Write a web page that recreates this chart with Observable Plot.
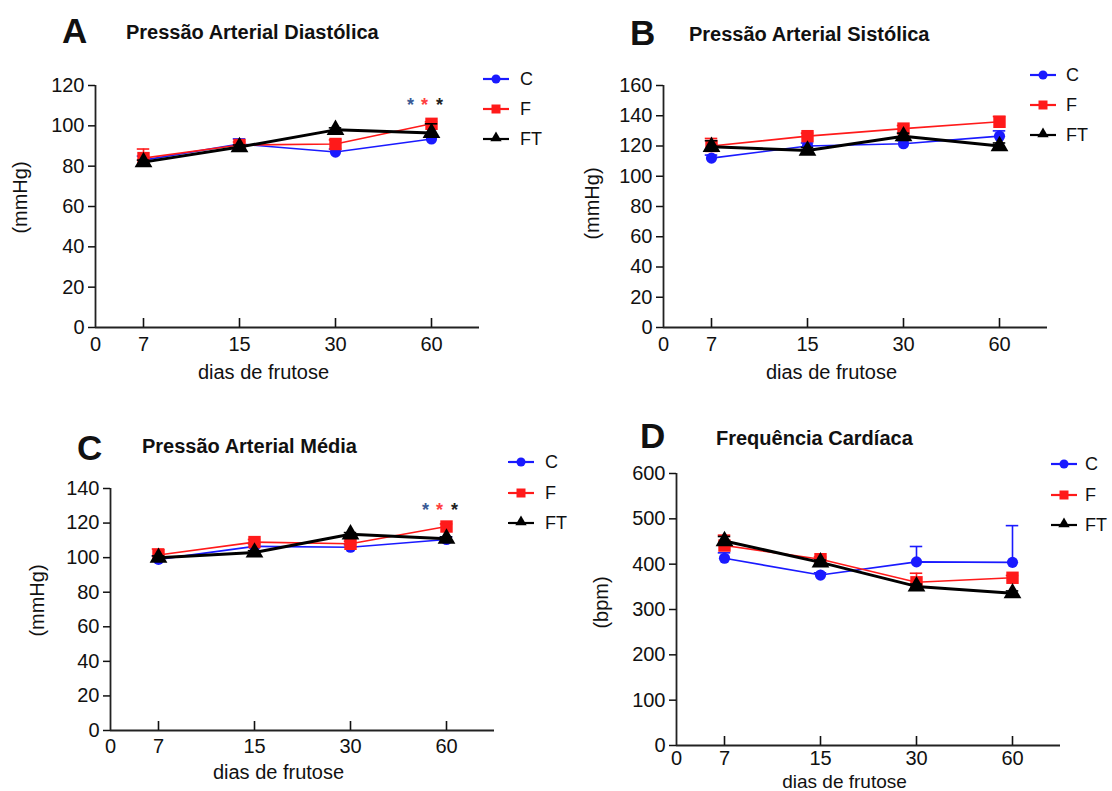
<!DOCTYPE html>
<html>
<head>
<meta charset="utf-8">
<script src="https://cdn.jsdelivr.net/npm/d3@7"></script>
<script src="https://cdn.jsdelivr.net/npm/@observablehq/plot@0.6"></script>
<style>
  body { margin: 0; background: #fff; font-family: "Liberation Sans", Arial, sans-serif; color: #111; }
  #root { position: relative; width: 1112px; height: 791px; overflow: hidden; background: #fff; }
  .panel { position: absolute; }
  .letter { position: absolute; font-weight: bold; font-size: 35px; line-height: 1; white-space: nowrap; }
  .title { position: absolute; font-weight: bold; font-size: 20px; line-height: 1; white-space: nowrap; }
  .legsym { position: absolute; }
  .legtxt { position: absolute; font-size: 18px; line-height: 18px; white-space: nowrap; }
</style>
</head>
<body>
<div id="root"></div>
<script>
// ---------- data ----------
const days = [7, 15, 30, 60];
const xTickLabels = ["0", "7", "15", "30", "60"];
const seriesNames = ["C", "F", "FT"];
const xAxisLabel = "dias de frutose";

// Pressão Arterial Diastólica (mmHg): means and upper SEM
const diastolicC    = [83, 91, 87, 93.5];
const diastolicF    = [84, 90.5, 91, 101];
const diastolicFT   = [82, 89.5, 98, 96.5];
const diastolicSemC  = [2, 2.5, 1.5, 1.5];
const diastolicSemF  = [4.5, 1.5, 2, 1];
const diastolicSemFT = [1, 1, 1, 4.5];
const diastolicSig = ["C", "F", "FT"];   // significance stars at day 60
const diastolicSigLevel = 110;

// Pressão Arterial Sistólica (mmHg)
const systolicC    = [112, 120, 121.5, 126.5];
const systolicF    = [120, 126.5, 131.5, 136];
const systolicFT   = [119.5, 117, 126.5, 120];
const systolicSemC  = [2, 2, 2, 3.5];
const systolicSemF  = [5, 2, 2, 3.5];
const systolicSemFT = [4, 2, 2, 2];

// Pressão Arterial Média (mmHg)
const meanC    = [99, 106.5, 106, 110.5];
const meanF    = [101.5, 109, 108, 118];
const meanFT   = [100, 103, 113.5, 111];
const meanSemC  = [2, 1.5, 1.5, 1.5];
const meanSemF  = [3.5, 1.5, 1.5, 1.5];
const meanSemFT = [1, 1, 1, 1];
const meanSig = ["C", "F", "FT"];
const meanSigLevel = 127.5;

// Frequência Cardíaca (bpm)
const hrC    = [413, 376, 405, 404];
const hrF    = [441, 411, 360, 370];
const hrFT   = [451, 404, 351, 336];
const hrSemC  = [12, 5, 34, 81];
const hrSemF  = [23, 5, 20, 5];
const hrSemFT = [10, 5, 5, 5];

// ---------- styles ----------
const colors = {C: "#1a1aff", F: "#ff1a1a", FT: "#000000"};
const starColors = {C: "#3a5a95", F: "#ff4040", FT: "#222222"};
const symbols = {C: "circle", F: "square", FT: "triangle"};
const radii = {C: 5.6, F: 7, FT: 6.6};
const widths = {C: 1.6, F: 1.6, FT: 3};
const starDx = {C: -21, F: -7, FT: 8};

// position on x: day 0 at origin, measured days are equally spaced categories
const tickPos = xTickLabels.map((_, i) => (i === 0 ? 0 : i - 0.5));
const tickLabelByPos = new Map(tickPos.map((p, i) => [p, xTickLabels[i]]));
const dayPos = days.map((_, i) => i + 0.5);

const panels = [
  {letter: "A", title: "Pressão Arterial Diastólica", ylabel: "(mmHg)",
   values: {C: diastolicC, F: diastolicF, FT: diastolicFT},
   sems: {C: diastolicSemC, F: diastolicSemF, FT: diastolicSemFT},
   sig: diastolicSig, sigLevel: diastolicSigLevel,
   ymax: 120, ystep: 20,
   left: 0, top: 0, width: 556, height: 395, mL: 95, mR: 77, mT: 85, mB: 68,
   ylDx: -75, ylDy: -9, xlDy: 45, xtPad: 9, xlSize: 20,
   letterPos: [62, 13], titlePos: [126, 22],
   legend: {x: 483, text: 520, ys: [79, 109, 139]}},
  {letter: "B", title: "Pressão Arterial Sistólica", ylabel: "(mmHg)",
   values: {C: systolicC, F: systolicF, FT: systolicFT},
   sems: {C: systolicSemC, F: systolicSemF, FT: systolicSemFT},
   sig: [], sigLevel: 0,
   ymax: 160, ystep: 20,
   left: 556, top: 0, width: 556, height: 395, mL: 107, mR: 65, mT: 85, mB: 68,
   ylDx: -71, ylDy: -3, xlDy: 45, xtPad: 9, xlSize: 20,
   letterPos: [630, 15], titlePos: [689, 24],
   legend: {x: 1030, text: 1066, ys: [75, 105, 135]}},
  {letter: "C", title: "Pressão Arterial Média", ylabel: "(mmHg)",
   values: {C: meanC, F: meanF, FT: meanFT},
   sems: {C: meanSemC, F: meanSemF, FT: meanSemFT},
   sig: meanSig, sigLevel: meanSigLevel,
   ymax: 140, ystep: 20,
   left: 0, top: 395, width: 556, height: 396, mL: 110, mR: 62, mT: 93, mB: 61,
   ylDx: -73, ylDy: -9, xlDy: 42, xtPad: 8, xlSize: 20,
   letterPos: [77, 430], titlePos: [142, 436],
   legend: {x: 508, text: 545, ys: [462, 493, 523]}},
  {letter: "D", title: "Frequência Cardíaca", ylabel: "(bpm)",
   values: {C: hrC, F: hrF, FT: hrFT},
   sems: {C: hrSemC, F: hrSemF, FT: hrSemFT},
   sig: [], sigLevel: 0,
   ymax: 600, ystep: 100,
   left: 556, top: 395, width: 556, height: 396, mL: 120, mR: 52, mT: 78, mB: 46,
   ylDx: -75, ylDy: -7, xlDy: 36, xtPad: 5, xlSize: 19,
   letterPos: [640, 418], titlePos: [716, 428],
   legend: {x: 1051, text: 1085, ys: [464, 495, 525]}}
];

const root = document.getElementById("root");

function addDiv(cls, text, left, top) {
  const d = document.createElement("div");
  d.className = cls;
  d.textContent = text;
  d.style.left = left + "px";
  d.style.top = top + "px";
  root.appendChild(d);
  return d;
}

function legendSymbol(s) {
  const ns = "http://www.w3.org/2000/svg";
  const svg = document.createElementNS(ns, "svg");
  svg.setAttribute("width", 26);
  svg.setAttribute("height", 16);
  const line = document.createElementNS(ns, "line");
  line.setAttribute("x1", 0); line.setAttribute("x2", 26);
  line.setAttribute("y1", 8); line.setAttribute("y2", 8);
  line.setAttribute("stroke", colors[s]);
  line.setAttribute("stroke-width", 2.2);
  svg.appendChild(line);
  const p = document.createElementNS(ns, "path");
  const sym = s === "C" ? d3.symbolCircle : s === "F" ? d3.symbolSquare : d3.symbolTriangle;
  const size = s === "C" ? 64 : s === "F" ? 81 : 56;
  p.setAttribute("d", d3.symbol(sym, size)());
  p.setAttribute("transform", s === "FT" ? "translate(13,7)" : "translate(13,8)");
  p.setAttribute("fill", colors[s]);
  svg.appendChild(p);
  return svg;
}

for (const P of panels) {
  const rows = [];
  for (const s of seriesNames) {
    P.values[s].forEach((v, i) => rows.push({series: s, pos: dayPos[i], day: days[i], mean: v, sem: P.sems[s][i]}));
  }
  const sigRows = P.sig.map(s => ({series: s, pos: dayPos[days.indexOf(60)], y: P.sigLevel}));
  const yTicks = d3.range(0, P.ymax + 1e-9, P.ystep);

  const marks = [
    Plot.ruleY([0], {stroke: "#222", strokeWidth: 1.8}),
    Plot.ruleX([0], {stroke: "#222", strokeWidth: 1.8}),
    Plot.axisY({ticks: yTicks, tickSize: 7, tickPadding: 4, label: null, tickFormat: d => String(d), fontSize: 20, strokeWidth: 1.5}),
    Plot.axisX({ticks: tickPos, tickSize: 0, tickPadding: P.xtPad, label: null, tickFormat: d => tickLabelByPos.get(d), fontSize: 20}),
    Plot.axisX({ticks: dayPos, tickSize: 9, dy: -9, label: null, tickFormat: () => "", strokeWidth: 1.6}),
    Plot.text([xAxisLabel], {x: (tickPos[0] + tickPos[tickPos.length - 1]) / 2, frameAnchor: "bottom", dy: P.xlDy, fontSize: P.xlSize, lineAnchor: "middle", textAnchor: "middle", fill: "#111"}),
    Plot.text([P.ylabel], {frameAnchor: "left", rotate: -90, dx: P.ylDx, dy: P.ylDy, fontSize: 20, textAnchor: "middle", lineAnchor: "middle", fill: "#111"})
  ];
  for (const s of seriesNames) {
    const r = rows.filter(d => d.series === s);
    marks.push(
      Plot.ruleX(r, {x: "pos", y1: "mean", y2: d => d.mean + d.sem, stroke: colors[s], strokeWidth: 1.6}),
      Plot.ruleY(r, {y: d => d.mean + d.sem, x1: d => d.pos - 0.065, x2: d => d.pos + 0.065, stroke: colors[s], strokeWidth: 1.6}),
      Plot.line(r, {x: "pos", y: "mean", stroke: colors[s], strokeWidth: widths[s]}),
      Plot.dot(r, {x: "pos", y: "mean", symbol: () => symbols[s], r: radii[s], fill: colors[s], stroke: "none"})
    );
  }
  for (const s of seriesNames) {
    const r = sigRows.filter(d => d.series === s);
    if (r.length) marks.push(Plot.text(r, {x: "pos", y: "y", text: () => "*", dx: starDx[s], fill: starColors[s], fontSize: 18, fontWeight: "bold"}));
  }

  const chart = Plot.plot({
    width: P.width, height: P.height,
    marginLeft: P.mL, marginRight: P.mR, marginTop: P.mT, marginBottom: P.mB,
    x: {type: "linear", domain: [0, 4]},
    y: {type: "linear", domain: [0, P.ymax]},
    symbol: {type: "identity"},
    style: {fontFamily: "'Liberation Sans', Arial, sans-serif", fontSize: "20px", background: "transparent", overflow: "visible", color: "#111"},
    marks
  });
  const holder = document.createElement("div");
  holder.className = "panel";
  holder.style.left = P.left + "px";
  holder.style.top = P.top + "px";
  holder.appendChild(chart);
  root.appendChild(holder);

  addDiv("letter", P.letter, P.letterPos[0], P.letterPos[1]);
  addDiv("title", P.title, P.titlePos[0], P.titlePos[1]);
  seriesNames.forEach((s, i) => {
    const y = P.legend.ys[i];
    const sym = legendSymbol(s);
    sym.setAttribute("class", "legsym");
    sym.style.left = P.legend.x + "px";
    sym.style.top = (y - 8) + "px";
    root.appendChild(sym);
    addDiv("legtxt", s, P.legend.text, y - 9);
  });
}
</script>
</body>
</html>
